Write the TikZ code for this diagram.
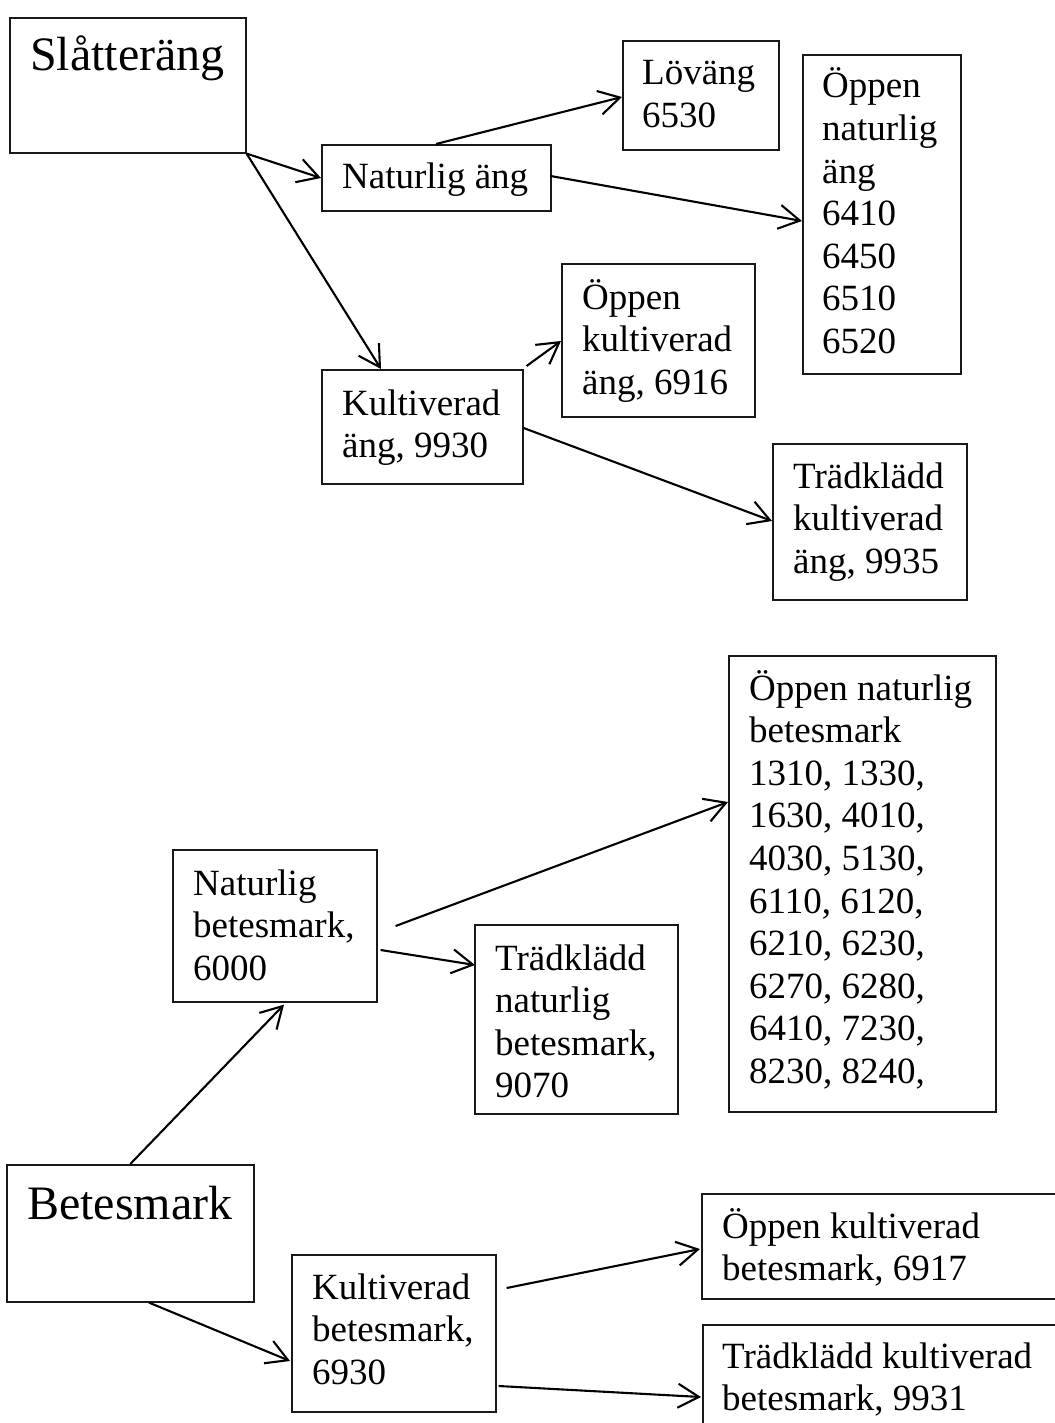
\documentclass[tikz,border=0pt]{standalone}
\usepackage{fontspec}
\setmainfont{Liberation Serif}
\usetikzlibrary{arrows.meta,calc}
\newcommand\mylines[1]{\parbox[t]{340pt}{\raggedright #1}}
\begin{document}
\begin{tikzpicture}[x=1pt,y=-1pt,
  box/.style={draw=black!90,line width=1.6pt,inner sep=0pt,anchor=north west},
  txt/.style={inner sep=0pt,anchor=base west,font=\fontsize{37}{42.6}\selectfont},
  bigtxt/.style={inner sep=0pt,anchor=base west,font=\fontsize{48}{56}\selectfont},
  arr/.style={line width=2.1pt,-{Straight Barb[length=21pt,width=24pt,line width=2.1pt]}}]
\useasboundingbox (0,0) rectangle (1054,1423);
\fill[white] (0,0) rectangle (1054,1423);
% boxes
\node[box,minimum width=236pt,minimum height=135pt] (slat) at (9,17) {};
\node[box,minimum width=229pt,minimum height=66pt] (nat) at (321,144) {};
\node[box,minimum width=156pt,minimum height=109pt] (lov) at (622,40) {};
\node[box,minimum width=158pt,minimum height=319pt] (onat) at (802,54) {};
\node[box,minimum width=193pt,minimum height=153pt] (okult) at (561,263) {};
\node[box,minimum width=201pt,minimum height=114pt] (kult) at (321,369) {};
\node[box,minimum width=194pt,minimum height=156pt] (tkult) at (772,443) {};
\node[box,minimum width=204pt,minimum height=152pt] (nbet) at (172,849) {};
\node[box,minimum width=203pt,minimum height=189pt] (tnbet) at (474,924) {};
\node[box,minimum width=267pt,minimum height=456pt] (onbet) at (728,655) {};
\node[box,minimum width=247pt,minimum height=137pt] (bet) at (6,1164) {};
\node[box,minimum width=204pt,minimum height=157pt] (kbet) at (291,1254) {};
\node[box,minimum width=370pt,minimum height=105pt] (okbet) at (701,1193) {};
\node[box,minimum width=370pt,minimum height=120pt] (tkbet) at (702,1324) {};
% texts
\node[bigtxt] (slatT) at (30,71) {Slåtteräng};
\node[txt] (natT) at (342,189) {Naturlig äng};
\node[txt] (lovT) at (642,85) {\mylines{Löväng\\6530}};
\node[txt] (onatT) at (822,98) {\mylines{Öppen\\naturlig\\äng\\6410\\6450\\6510\\6520}};
\node[txt] (okultT) at (582,309) {\mylines{Öppen\\kultiverad\\äng, 6916}};
\node[txt] (kultT) at (342,415) {\mylines{Kultiverad\\äng, 9930}};
\node[txt] (tkultT) at (793,488) {\mylines{Trädklädd\\kultiverad\\äng, 9935}};
\node[txt] (onbetT) at (749,700) {\mylines{Öppen naturlig\\betesmark\\1310, 1330,\\1630, 4010,\\4030, 5130,\\6110, 6120,\\6210, 6230,\\6270, 6280,\\6410, 7230,\\8230, 8240,}};
\node[txt] (nbetT) at (193,895) {\mylines{Naturlig\\betesmark,\\6000}};
\node[txt] (tnbetT) at (495,970) {\mylines{Trädklädd\\naturlig\\betesmark,\\9070}};
\node[bigtxt] (betT) at (27,1219) {Betesmark};
\node[txt] (kbetT) at (312,1299) {\mylines{Kultiverad\\betesmark,\\6930}};
\node[txt] (okbetT) at (722,1238) {\mylines{Öppen kultiverad\\betesmark, 6917}};
\node[txt] (tkbetT) at (722,1368) {\mylines{Trädklädd kultiverad\\betesmark, 9931}};
% arrows
\draw[arr] (slat.south east) -- ($(nat.north west)+(0,34)$);
\draw[arr] (slat.south east) -- ($(kult.north west)+(60,0)$);
\draw[arr] ($(nat.north west)+(115,0)$) -- ($(lov.north west)+(0,57)$);
\draw[arr] ($(nat.north east)+(-1,32)$) -- ($(onat.north west)+(0,167)$);
\draw[arr] ($(kult.north east)+(3,-3)$) -- ($(okult.north west)+(0,78)$);
\draw[arr] ($(kult.north east)+(0,59)$) -- ($(tkult.north west)+(0,78)$);
\draw[arr] ($(nbet.north east)+(18,77)$) -- ($(onbet.north west)+(0,147)$);
\draw[arr] ($(nbet.north east)+(3,101)$) -- ($(tnbet.north west)+(1,41)$);
\draw[arr] (bet.north) -- ($(nbet.south west)+(112,2)$);
\draw[arr] ($(bet.south west)+(143,0)$) -- ($(kbet.north west)+(-1,107)$);
\draw[arr] ($(kbet.north east)+(10,34)$) -- ($(okbet.north west)+(-1,56)$);
\draw[arr] ($(kbet.north east)+(2,132)$) -- ($(tkbet.north west)+(-1,73)$);
\end{tikzpicture}
\end{document}
